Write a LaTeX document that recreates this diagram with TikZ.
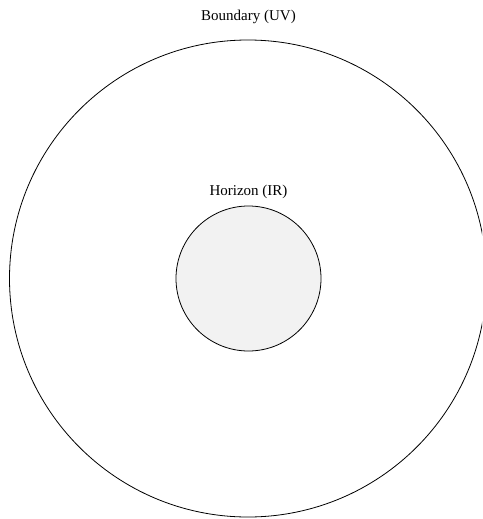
\documentclass[tikz,border=0pt]{standalone}
\usepackage{fontspec}
\setmainfont{Liberation Serif}
\begin{document}
\begin{tikzpicture}[x=1pt,y=-1pt,
  ring/.style={draw=black,line width=0.8pt},
  lbl/.style={font=\fontsize{15}{18}\selectfont,anchor=base,inner sep=0pt}]
\useasboundingbox (0,0) rectangle (482,519);
\begin{scope}
\clip (0,0) rectangle (482,519);
\node[ring,circle,minimum size=477pt,inner sep=0pt] (boundary) at (248,278.5) {};
\end{scope}
\node[ring,circle,fill={rgb,255:red,242;green,242;blue,242},minimum size=145pt,inner sep=0pt] (horizon) at (248.5,278.5) {};
\node[lbl] (blabel) at (248.5,21) {Boundary (UV)};
\node[lbl] (hlabel) at (248.5,195) {Horizon (IR)};
\end{tikzpicture}
\end{document}
